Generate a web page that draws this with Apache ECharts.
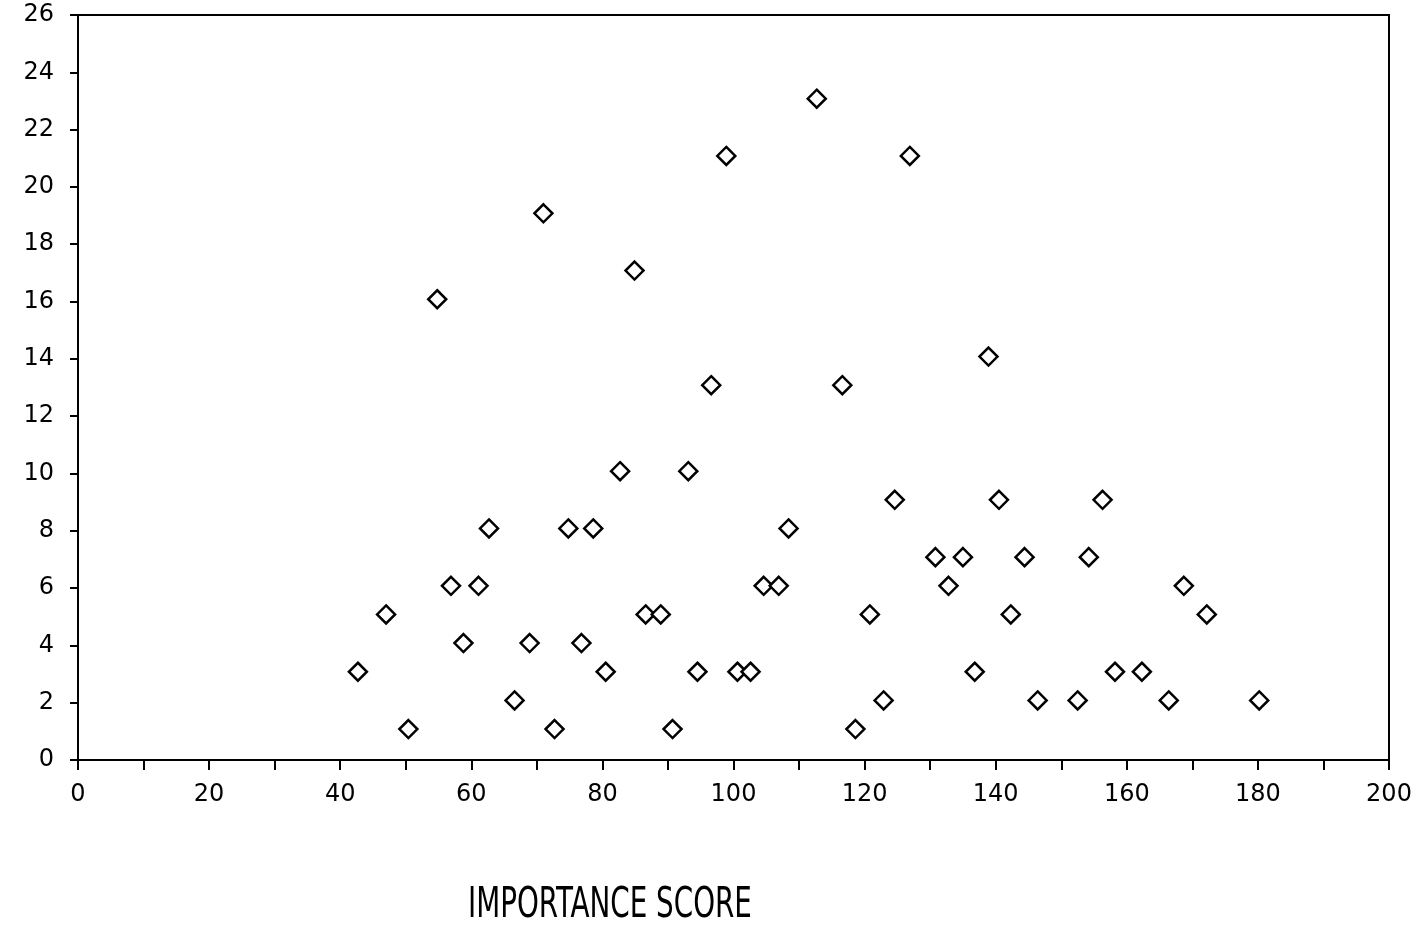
<!DOCTYPE html>
<html>
<head>
<meta charset="utf-8">
<script src="https://cdn.jsdelivr.net/npm/echarts@6/dist/echarts.min.js"></script>
<style>
html,body{margin:0;padding:0;background:#fff;}
#main{width:1425px;height:926px;}
</style>
</head>
<body>
<div id="main"></div>
<script>
// importance score (x) vs count (y)
var scores = [42.7, 47.0, 50.4, 54.8, 56.9, 58.8, 61.1, 62.7, 66.6, 68.9,
	71.0, 72.7, 74.8, 76.8, 78.6, 80.5, 82.7, 84.9, 86.6, 88.9,
	90.7, 93.1, 94.5, 96.6, 98.9, 100.6, 102.6, 104.6, 106.9, 108.4,
	112.7, 116.6, 118.6, 120.8, 122.9, 124.6, 126.9, 130.8, 132.8, 135.0,
	136.8, 138.9, 140.5, 142.3, 144.4, 146.4, 152.5, 154.2, 156.3, 158.2,
	162.3, 166.4, 168.7, 172.2, 180.2];
var counts = [3, 5, 1, 16, 6, 4, 6, 8, 2, 4,
	19, 1, 8, 4, 8, 3, 10, 17, 5, 5,
	1, 10, 3, 13, 21, 3, 3, 6, 6, 8,
	23, 13, 1, 5, 2, 9, 21, 7, 6, 7,
	3, 14, 9, 5, 7, 2, 2, 7, 9, 3,
	3, 2, 6, 5, 2];
var axisTitle = 'IMPORTANCE SCORE';

var points = [];
for (var i = 0; i < scores.length; i++) {
	points.push([scores[i], counts[i] + 0.08]);
}

var myChart = echarts.init(document.getElementById('main'));
var lbl = {color: '#000', fontFamily: 'DejaVu Sans', fontSize: 24};
var option = {
	animation: false,
	backgroundColor: '#fff',
	graphic: [{
		type: 'text',
		x: 468, y: 884,
		scaleX: 1.03, scaleY: 1.45,
		style: {text: axisTitle, font: '30px "Liberation Sans Narrow", "DejaVu Sans Condensed"', fill: '#000'}
	}],
	grid: {left: 78, right: 36, top: 15, bottom: 166, show: true, borderColor: '#000', borderWidth: 2},
	xAxis: {
		type: 'value', min: 0, max: 200, interval: 10,
		axisLine: {lineStyle: {color: '#000', width: 2}},
		axisTick: {inside: false, length: 10, lineStyle: {color: '#000', width: 2}},
		splitLine: {show: false},
		axisLabel: Object.assign({margin: 23, formatter: function (v) { return v % 20 === 0 ? v : ''; }}, lbl)
	},
	yAxis: {
		type: 'value', min: 0, max: 26, interval: 2,
		axisLine: {lineStyle: {color: '#000', width: 2}},
		axisTick: {inside: false, length: 8, lineStyle: {color: '#000', width: 2}},
		splitLine: {show: false},
		axisLabel: Object.assign({margin: 24}, lbl)
	},
	series: [{
		type: 'scatter',
		data: points,
		symbol: 'diamond',
		symbolSize: [18, 18],
		itemStyle: {color: '#fff', borderColor: '#000', borderWidth: 2.5, opacity: 1}
	}]
};
myChart.setOption(option);
</script>
</body>
</html>
